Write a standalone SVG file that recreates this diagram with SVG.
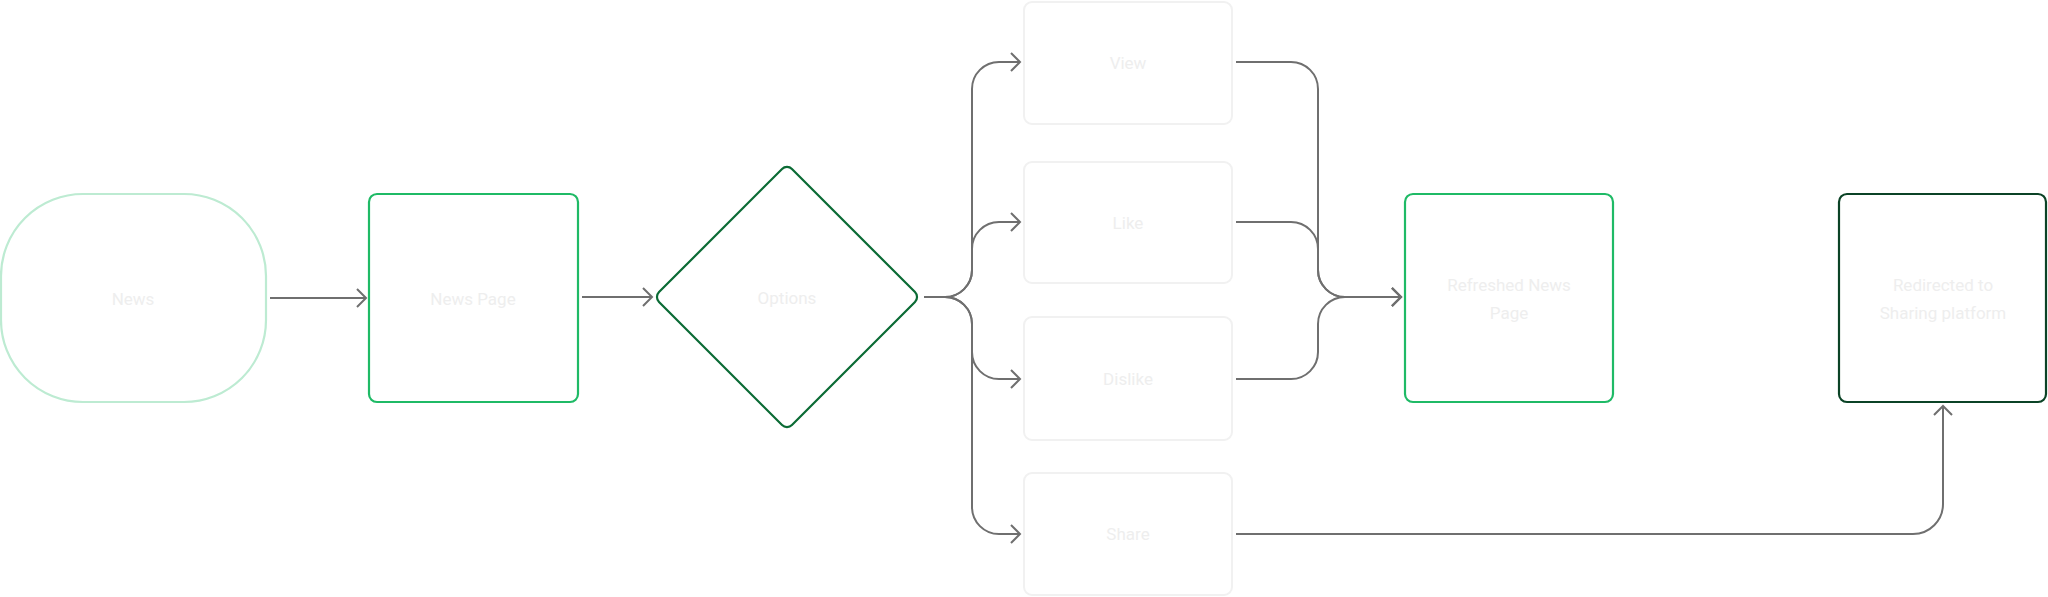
<svg xmlns="http://www.w3.org/2000/svg" width="2048" height="597" viewBox="0 0 2048 597">
<style>
  .lbl{font-family:Roboto,"Liberation Sans",sans-serif;font-size:17px;fill:#eeeeee;text-anchor:middle;dominant-baseline:central}
  .conn{fill:none;stroke:#6f6f6f;stroke-width:2}
  .opt{fill:#ffffff;stroke:#f1f1f1;stroke-width:2}
  .page{fill:#ffffff;stroke:#1fba66;stroke-width:2.2}
</style>
<defs>
  <marker id="arr" markerUnits="userSpaceOnUse" markerWidth="20" markerHeight="20" viewBox="-12 -10 14 20" refX="0" refY="0" orient="auto">
    <path d="M-9,-9 L0,0 L-9,9" fill="none" stroke="#6f6f6f" stroke-width="2"/>
  </marker>
</defs>
<rect width="2048" height="597" fill="#ffffff"/>

<g id="connectors">
  <path class="conn" d="M270,298 H366" marker-end="url(#arr)"/>
  <path class="conn" d="M582,297 H652" marker-end="url(#arr)"/>
  <path class="conn" d="M924,297 H945 A27,27 0 0 0 972,270 V89 A27,27 0 0 1 999,62 H1020" marker-end="url(#arr)"/>
  <path class="conn" d="M924,297 H945 A27,27 0 0 0 972,270 V249 A27,27 0 0 1 999,222 H1020" marker-end="url(#arr)"/>
  <path class="conn" d="M924,297 H945 A27,27 0 0 1 972,324 V352 A27,27 0 0 0 999,379 H1020" marker-end="url(#arr)"/>
  <path class="conn" d="M924,297 H945 A27,27 0 0 1 972,324 V507 A27,27 0 0 0 999,534 H1020" marker-end="url(#arr)"/>
  <path class="conn" d="M1236,62 H1291 A27,27 0 0 1 1318,89 V270 A27,27 0 0 0 1345,297 H1401" marker-end="url(#arr)"/>
  <path class="conn" d="M1236,222 H1291 A27,27 0 0 1 1318,249 V270 A27,27 0 0 0 1345,297 H1401" marker-end="url(#arr)"/>
  <path class="conn" d="M1236,379 H1291 A27,27 0 0 0 1318,352 V324 A27,27 0 0 1 1345,297 H1401" marker-end="url(#arr)"/>
  <path class="conn" d="M1236,534 H1913 A30,30 0 0 0 1943,504 V406" marker-end="url(#arr)"/>
</g>

<g id="news">
  <rect x="1" y="194" width="265" height="208" rx="82" ry="82" fill="#ffffff" stroke="#bdebd2" stroke-width="2.2"/>
  <text class="lbl" x="133" y="299">News</text>
</g>
<g id="news-page">
  <rect class="page" x="369" y="194" width="209" height="208" rx="8"/>
  <text class="lbl" x="473" y="299">News Page</text>
</g>
<g id="options">
  <rect x="-94" y="-94" width="188" height="188" rx="7" fill="#ffffff" stroke="#0b6b35" stroke-width="2.2" transform="translate(787,297) rotate(45)"/>
  <text class="lbl" x="787" y="298">Options</text>
</g>
<g id="view">
  <rect class="opt" x="1024" y="2" width="208" height="122" rx="8"/>
  <text class="lbl" x="1128" y="63">View</text>
</g>
<g id="like">
  <rect class="opt" x="1024" y="162" width="208" height="121" rx="8"/>
  <text class="lbl" x="1128" y="223">Like</text>
</g>
<g id="dislike">
  <rect class="opt" x="1024" y="317" width="208" height="123" rx="8"/>
  <text class="lbl" x="1128" y="379">Dislike</text>
</g>
<g id="share">
  <rect class="opt" x="1024" y="473" width="208" height="122" rx="8"/>
  <text class="lbl" x="1128" y="534">Share</text>
</g>
<g id="refreshed">
  <rect class="page" x="1405" y="194" width="208" height="208" rx="8"/>
  <text class="lbl" x="1509" y="285">Refreshed News</text>
  <text class="lbl" x="1509" y="313">Page</text>
</g>
<g id="redirected">
  <rect x="1839" y="194" width="207" height="208" rx="8" fill="#ffffff" stroke="#0b4326" stroke-width="2.2"/>
  <text class="lbl" x="1943" y="285">Redirected to</text>
  <text class="lbl" x="1943" y="313">Sharing platform</text>
</g>
</svg>
